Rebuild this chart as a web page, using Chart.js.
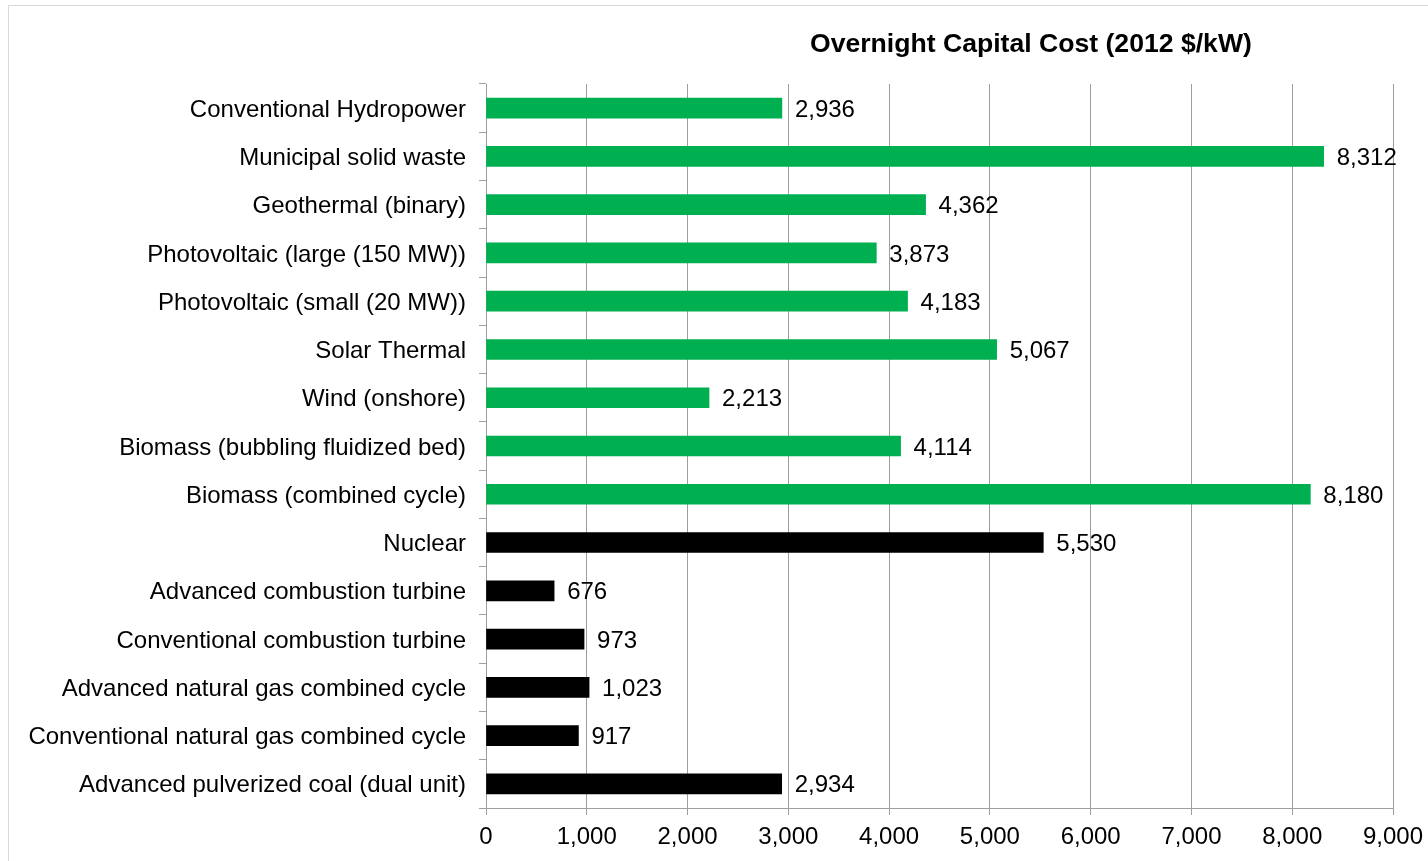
<!DOCTYPE html>
<html>
<head>
<meta charset="utf-8">
<script src="https://cdn.jsdelivr.net/npm/chart.js@4"></script>
<style>
  body { margin: 0; background: #fff; }
  #frame { position: absolute; left: 8px; top: 5px; width: 1440px; height: 900px; border: 1px solid #d9d9d9; }
  #title { position: absolute; left: 810px; top: 28px; font: bold 26.6px "Liberation Sans", Arial, sans-serif; color: #000; white-space: nowrap; }
  #wrap { position: absolute; left: 0; top: 0; width: 1428px; height: 861px; }
</style>
</head>
<body>
<div id="frame"></div>
<div id="wrap"><canvas id="barChart"></canvas></div>
<div id="title">Overnight Capital Cost (2012 $/kW)</div>
<script>
const technologies = [
  "Conventional Hydropower",
  "Municipal solid waste",
  "Geothermal (binary)",
  "Photovoltaic (large (150 MW))",
  "Photovoltaic (small (20 MW))",
  "Solar Thermal",
  "Wind (onshore)",
  "Biomass (bubbling fluidized bed)",
  "Biomass (combined cycle)",
  "Nuclear",
  "Advanced combustion turbine",
  "Conventional combustion turbine",
  "Advanced natural gas combined cycle",
  "Conventional natural gas combined cycle",
  "Advanced pulverized coal (dual unit)"
];
const costs = [2936, 8312, 4362, 3873, 4183, 5067, 2213, 4114, 8180, 5530, 676, 973, 1023, 917, 2934];
const renewable = [true, true, true, true, true, true, true, true, true, false, false, false, false, false, false];
const xTicks = [0, 1000, 2000, 3000, 4000, 5000, 6000, 7000, 8000, 9000];

const font = "'Liberation Sans', Arial, sans-serif";

// value labels right of each bar
const valueLabels = {
  id: "valueLabels",
  afterDatasetsDraw(chart) {
    const ctx = chart.ctx;
    const meta = chart.getDatasetMeta(0);
    ctx.save();
    ctx.font = "24px " + font;
    ctx.fillStyle = "#000";
    ctx.textBaseline = "middle";
    meta.data.forEach((bar, i) => {
      ctx.fillText(costs[i].toLocaleString("en-US"), bar.x + 13, bar.y + 2);
    });
    ctx.restore();
  }
};

new Chart(document.getElementById("barChart"), {
  type: "bar",
  data: {
    labels: technologies,
    datasets: [{
      data: costs,
      backgroundColor: renewable.map(r => r ? "#00b050" : "#000000"),
      barThickness: 20
    }]
  },
  options: {
    indexAxis: "y",
    responsive: true,
    maintainAspectRatio: false,
    animation: false,
    layout: { padding: { top: 84, right: 35, left: 0, bottom: 0 } },
    plugins: {
      legend: { display: false },
      tooltip: { enabled: false }
    },
    scales: {
      x: {
        min: 0,
        max: 9000,
        afterBuildTicks(scale) { scale.ticks = xTicks.map(v => ({ value: v })); },
        afterFit(scale) {
          scale.height = 53;
          // let the last tick label hang into the right padding
          scale.paddingLeft = 0;
          scale.paddingRight = 0;
        },
        ticks: {
          color: "#000",
          font: { family: font, size: 24 },
          padding: 8,
          maxRotation: 0,
          callback: v => v.toLocaleString("en-US")
        },
        grid: { color: "#9e9e9e", lineWidth: 1, tickLength: 7 },
        border: { color: "#9e9e9e" }
      },
      y: {
        afterFit(scale) { scale.width = 486; },
        ticks: {
          color: "#000",
          font: { family: font, size: 24 },
          padding: 13,
          labelOffset: 2
        },
        grid: { offset: true, drawOnChartArea: false, color: "#9e9e9e", tickLength: 7 },
        border: { color: "#9e9e9e" }
      }
    }
  },
  plugins: [valueLabels]
});
</script>
</body>
</html>
